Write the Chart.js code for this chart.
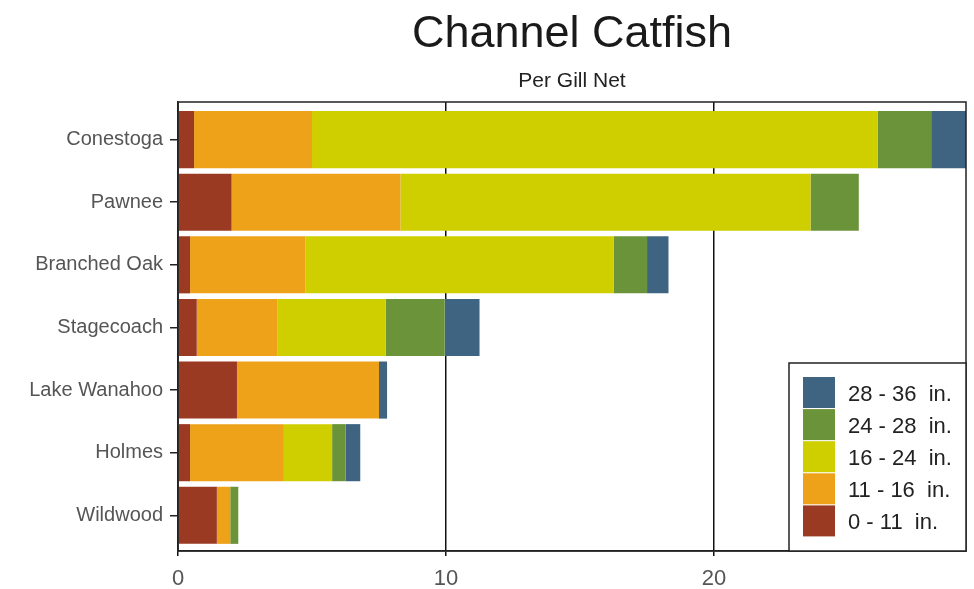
<!DOCTYPE html>
<html>
<head>
<meta charset="utf-8">
<script src="https://cdn.jsdelivr.net/npm/chart.js@4.4.1/dist/chart.umd.min.js"></script>
<style>
  body { margin: 0; background: #fff; }
  #wrap { width: 974px; height: 589px; }
</style>
</head>
<body>
<div id="wrap"><canvas id="chart" width="974" height="589"></canvas></div>
<script>
const lakes = ['Conestoga', 'Pawnee', 'Branched Oak', 'Stagecoach', 'Lake Wanahoo', 'Holmes', 'Wildwood'];
const xTicks = [0, 10, 20];

const size0to11 = [0.6, 2.0, 0.45, 0.7, 2.2, 0.45, 1.45];
const size11to16 = [4.4, 6.3, 4.3, 3.0, 5.3, 3.5, 0.5];
const size16to24 = [21.1, 15.3, 11.5, 4.05, 0, 1.8, 0];
const size24to28 = [2.0, 1.8, 1.25, 2.2, 0, 0.5, 0.3];
const size28to36 = [1.4, 0, 0.8, 1.3, 0.3, 0.55, 0];

const series = [
  ['0 - 11  in.', size0to11, '#9b3a22'],
  ['11 - 16  in.', size11to16, '#eda21a'],
  ['16 - 24  in.', size16to24, '#cfcf00'],
  ['24 - 28  in.', size24to28, '#6b9339'],
  ['28 - 36  in.', size28to36, '#3e6482']
];

const font = 'Liberation Sans, Arial, sans-serif';

// title, subtitle, frame and boxed legend drawn by hand
const decor = {
  id: 'decor',
  afterDatasetsDraw(chart) {
    const { ctx, chartArea: a } = chart;
    ctx.save();
    ctx.strokeStyle = '#222';
    ctx.lineWidth = 1.5;
    ctx.strokeRect(a.left, a.top, a.right - a.left, a.bottom - a.top);
    ctx.restore();
  },
  afterDraw(chart) {
    const { ctx, chartArea: a } = chart;
    const cx = (a.left + a.right) / 2;
    ctx.save();
    ctx.fillStyle = '#1a1a1a';
    ctx.textAlign = 'center';
    ctx.textBaseline = 'alphabetic';
    ctx.font = `45px ${font}`;
    ctx.fillText('Channel Catfish', cx, 47);
    ctx.fillStyle = '#222';
    ctx.font = `21px ${font}`;
    ctx.fillText('Per Gill Net', cx, 87);

    // legend
    const bx = 789, by = 363, bw = a.right - 789, bh = a.bottom - 363;
    ctx.fillStyle = '#fff';
    ctx.fillRect(bx, by, bw, bh);
    ctx.strokeStyle = '#222';
    ctx.lineWidth = 1.5;
    ctx.strokeRect(bx, by, bw, bh);
    ctx.textAlign = 'left';
    ctx.font = `22px ${font}`;
    series.slice().reverse().forEach(([label, , color], i) => {
      const y = 377 + i * 32.1;
      ctx.fillStyle = color;
      ctx.fillRect(803, y, 32, 31);
      ctx.fillStyle = '#222';
      ctx.fillText(label, 848, y + 24);
    });
    ctx.restore();
  }
};

new Chart(document.getElementById('chart'), {
  type: 'bar',
  data: {
    datasets: series.map(([label, values, color]) => ({
      label,
      data: values.map((v, i) => ({ x: v, y: i })),
      backgroundColor: color,
      borderWidth: 0,
      categoryPercentage: 1,
      barPercentage: 0.912
    }))
  },
  options: {
    indexAxis: 'y',
    responsive: false,
    animation: false,
    layout: { padding: { top: 102, right: 8, left: 0, bottom: 0 } },
    plugins: { legend: { display: false }, tooltip: { enabled: false }, title: { display: false } },
    scales: {
      x: {
        type: 'linear',
        stacked: true,
        min: 0,
        max: 29.4,
        afterBuildTicks: (scale) => { scale.ticks = xTicks.map((value) => ({ value })); },
        afterFit: (scale) => { scale.height = 38; },
        grid: { color: '#111', lineWidth: 1.5, drawTicks: true, tickLength: 5 },
        border: { color: '#222', width: 1.5 },
        ticks: { color: '#555', padding: 10, font: { family: font, size: 22 } }
      },
      y: {
        type: 'linear',
        stacked: true,
        reverse: true,
        offset: false,
        min: -0.6,
        max: 6.57,
        afterBuildTicks: (scale) => { scale.ticks = lakes.map((_, value) => ({ value })); },
        afterFit: (scale) => { scale.width = 178; },
        grid: { offset: false, drawOnChartArea: false, drawTicks: true, tickLength: 8, color: '#222', lineWidth: 1.5 },
        border: { color: '#222', width: 1.5 },
        ticks: { color: '#555', padding: 7, font: { family: font, size: 20 }, callback: (v) => lakes[v] }
      }
    }
  },
  plugins: [decor]
});
</script>
</body>
</html>
